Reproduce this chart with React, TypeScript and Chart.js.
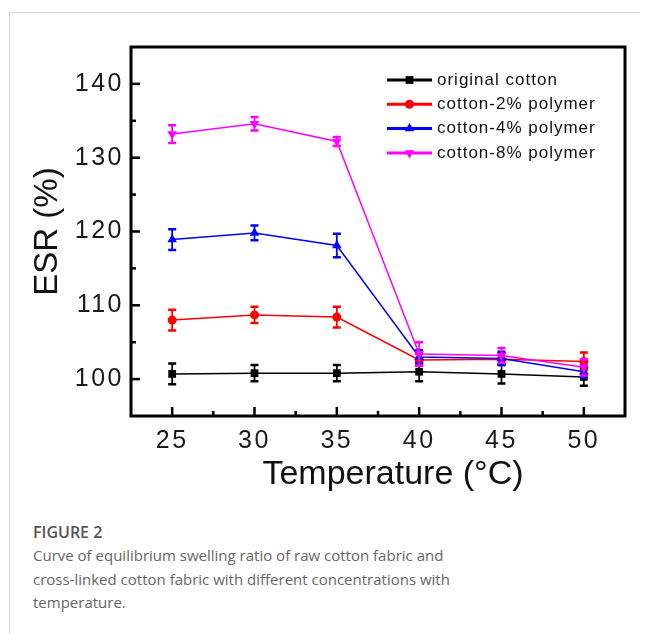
import React, { useEffect, useRef } from 'react';
import { Chart, registerables } from 'chart.js';

Chart.register(...registerables);

// ---- data ----
const temperatures = [25, 30, 35, 40, 45, 50];
const seriesNames = ['original cotton', 'cotton-2% polymer', 'cotton-4% polymer', 'cotton-8% polymer'];
const originalCotton = [100.7, 100.8, 100.8, 101.0, 100.7, 100.3];
const originalCottonErr = [1.4, 1.1, 1.1, 1.3, 1.3, 1.2];
const cotton2 = [108.0, 108.7, 108.4, 102.6, 102.7, 102.4];
const cotton2Err = [1.4, 1.1, 1.4, 0.8, 0.8, 1.2];
const cotton4 = [118.9, 119.8, 118.1, 103.0, 102.8, 101.0];
const cotton4Err = [1.4, 1.0, 1.6, 0.9, 0.9, 0.8];
const cotton8 = [133.2, 134.6, 132.2, 103.4, 103.2, 101.6];
const cotton8Err = [1.2, 0.9, 0.6, 1.6, 1.0, 1.1];
const seriesValues = [originalCotton, cotton2, cotton4, cotton8];
const seriesErrors = [originalCottonErr, cotton2Err, cotton4Err, cotton8Err];
const seriesColors = ['#000000', '#ff0000', '#0000ff', '#ff00ff'];
const pointStyles = ['rect', 'circle', 'triangle', 'triangle'];
const pointRotations = [0, 0, 0, 180];
const pointRadii = [5.5, 4.5, 5.5, 5.5];
const xRange = [22.5, 52.5];
const yRange = [95, 145];
const xLabelStep = 5;
const yLabelStep = 10;
const xTitle = 'Temperature (°C)';
const yTitle = 'ESR (%)';

const FONT = '"Liberation Sans", Arial, Helvetica, sans-serif';

function drawMarker(ctx: CanvasRenderingContext2D, style: string, rot: number, x: number, y: number, r: number) {
  ctx.beginPath();
  if (style === 'rect') {
    const s = r * Math.SQRT1_2;
    ctx.rect(x - s, y - s, 2 * s, 2 * s);
  } else if (style === 'circle') {
    ctx.arc(x, y, r, 0, Math.PI * 2);
  } else {
    const a0 = (rot * Math.PI) / 180;
    for (let k = 0; k < 3; k++) {
      const a = a0 - Math.PI / 2 + (k * 2 * Math.PI) / 3;
      const px = x + r * Math.cos(a);
      const py = y + r * Math.sin(a);
      if (k === 0) ctx.moveTo(px, py);
      else ctx.lineTo(px, py);
    }
    ctx.closePath();
  }
  ctx.fill();
}

const errorBarPlugin = {
  id: 'errorBars',
  beforeDatasetDraw(chart: any, args: any) {
    const idx = args.index;
    const errs = seriesErrors[idx];
    const vals = seriesValues[idx];
    const y = chart.scales.y;
    const ctx = chart.ctx;
    ctx.save();
    ctx.strokeStyle = seriesColors[idx];
    args.meta.data.forEach((el: any, i: number) => {
      const top = y.getPixelForValue(vals[i] + errs[i]);
      const bot = y.getPixelForValue(vals[i] - errs[i]);
      ctx.lineWidth = 1.8;
      ctx.beginPath();
      ctx.moveTo(el.x, top);
      ctx.lineTo(el.x, bot);
      ctx.stroke();
      ctx.lineWidth = 2.5;
      ctx.beginPath();
      ctx.moveTo(el.x - 4, top);
      ctx.lineTo(el.x + 4, top);
      ctx.moveTo(el.x - 4, bot);
      ctx.lineTo(el.x + 4, bot);
      ctx.stroke();
    });
    ctx.restore();
  },
};

const framePlugin = {
  id: 'frameAndLegend',
  beforeDraw(chart: any) {
    (chart.ctx as any).letterSpacing = '0px';
  },
  afterDatasetsDraw(chart: any) {
    // tick labels (z = 1) are drawn next, with letter spacing like the original
    (chart.ctx as any).letterSpacing = '2.5px';
  },
  afterDraw(chart: any) {
    const ctx = chart.ctx as CanvasRenderingContext2D;
    (ctx as any).letterSpacing = '0px';
    const { left, right, top, bottom } = chart.chartArea;
    ctx.save();
    ctx.strokeStyle = '#000';
    ctx.lineWidth = 3;
    ctx.strokeRect(left, top, right - left, bottom - top);
    // inward ticks
    ctx.lineWidth = 2.5;
    const xs = chart.scales.x;
    xs.ticks.forEach((t: any) => {
      const v = t.value;
      if (v <= xRange[0] + 1e-6 || v >= xRange[1] - 1e-6) return;
      const major = Math.abs(v / xLabelStep - Math.round(v / xLabelStep)) < 1e-6;
      const px = xs.getPixelForValue(v);
      ctx.beginPath();
      ctx.moveTo(px, bottom);
      ctx.lineTo(px, bottom - (major ? 9 : 5));
      ctx.stroke();
    });
    const ys = chart.scales.y;
    ys.ticks.forEach((t: any) => {
      const v = t.value;
      if (v <= yRange[0] + 1e-6 || v >= yRange[1] - 1e-6) return;
      const major = Math.abs(v / yLabelStep - Math.round(v / yLabelStep)) < 1e-6;
      const py = ys.getPixelForValue(v);
      ctx.beginPath();
      ctx.moveTo(left, py);
      ctx.lineTo(left + (major ? 9 : 5), py);
      ctx.stroke();
    });
    // x axis title (slightly right of centre, as in the original)
    ctx.fillStyle = '#111';
    ctx.font = `34px ${FONT}`;
    ctx.textAlign = 'center';
    ctx.textBaseline = 'alphabetic';
    ctx.fillText(xTitle, (left + right) / 2 + 15, bottom + 68);
    // legend
    (ctx as any).letterSpacing = '1px';
    ctx.font = `17px ${FONT}`;
    ctx.textBaseline = 'middle';
    ctx.textAlign = 'left';
    const lx = left + 256;
    const ly = top + 33;
    seriesNames.forEach((name, i) => {
      const yy = ly + i * 24.3;
      ctx.strokeStyle = seriesColors[i];
      ctx.fillStyle = seriesColors[i];
      ctx.lineWidth = 3;
      ctx.beginPath();
      ctx.moveTo(lx, yy);
      ctx.lineTo(lx + 45, yy);
      ctx.stroke();
      drawMarker(ctx, pointStyles[i], pointRotations[i], lx + 22.5, yy, pointRadii[i]);
      ctx.fillStyle = '#111';
      ctx.fillText(name, lx + 50, yy);
    });
    ctx.restore();
    (ctx as any).letterSpacing = '0px';
  },
};

function ChartView() {
  const ref = useRef<HTMLCanvasElement | null>(null);
  useEffect(() => {
    if (!ref.current) return;
    const chart = new Chart(ref.current, {
      type: 'line',
      data: {
        datasets: seriesNames.map((name, i) => ({
          label: name,
          data: temperatures.map((t, j) => ({ x: t, y: seriesValues[i][j] })),
          borderColor: seriesColors[i],
          backgroundColor: seriesColors[i],
          pointBackgroundColor: seriesColors[i],
          pointBorderColor: seriesColors[i],
          pointBorderWidth: 0,
          pointStyle: pointStyles[i] as any,
          rotation: pointRotations[i],
          pointRadius: pointRadii[i],
          borderWidth: 1.5,
          tension: 0,
          order: 4 - i,
        })),
      },
      options: {
        responsive: false,
        animation: false,
        devicePixelRatio: 1,
        layout: { padding: { top: 34, right: 23, bottom: 0, left: 0 } },
        plugins: { legend: { display: false }, tooltip: { enabled: false } },
        scales: {
          x: {
            type: 'linear',
            min: xRange[0],
            max: xRange[1],
            grid: { display: false, drawTicks: false },
            border: { display: false },
            ticks: {
              stepSize: 2.5,
              autoSkip: false,
              maxRotation: 0,
              minRotation: 0,
              padding: 10,
              z: 1,
              color: '#1a1a1a',
              font: { family: FONT, size: 25 },
              callback: (v: any) => (Math.abs(v / xLabelStep - Math.round(v / xLabelStep)) < 1e-6 && v > xRange[0] && v < xRange[1] ? String(v) : ''),
            },
            title: { display: false, text: xTitle },
            afterFit: (s: any) => { s.height = 87; },
          },
          y: {
            type: 'linear',
            min: yRange[0],
            max: yRange[1],
            grid: { display: false, drawTicks: false },
            border: { display: false },
            ticks: {
              stepSize: 5,
              autoSkip: false,
              padding: 7,
              z: 1,
              color: '#1a1a1a',
              font: { family: FONT, size: 25 },
              callback: (v: any) => (Math.abs(v / yLabelStep - Math.round(v / yLabelStep)) < 1e-6 ? String(v) : ''),
            },
            title: {
              display: true,
              text: yTitle,
              color: '#111',
              font: { family: FONT, size: 33 },
              padding: { top: 18, bottom: 0 },
            },
            afterFit: (s: any) => { s.width = 121; },
          },
        },
      },
      plugins: [errorBarPlugin, framePlugin],
    });
    return () => chart.destroy();
  }, []);
  return <canvas ref={ref} width={638} height={490} style={{ display: 'block', width: 638, height: 490 }} />;
}

export default function App() {
  useEffect(() => {
    document.body.style.overflow = 'hidden';
  }, []);
  return (
    <div style={{ overflow: 'hidden', marginRight: -8, paddingTop: 4, height: 640 }}>
      <div style={{ marginLeft: 1, borderTop: '1px solid #d6d6d6', borderLeft: '1px solid #d6d6d6', height: 660, background: '#fff' }}>
        <ChartView />
        <div style={{ paddingLeft: 23, marginTop: 18, fontFamily: '"Open Sans", "Noto Sans", sans-serif' }}>
          <div style={{ fontWeight: 600, fontSize: 16, lineHeight: '23px', color: '#555' }}>FIGURE 2</div>
          <div style={{ fontSize: 15, lineHeight: '23.5px', color: '#666', width: 430 }}>
            Curve of equilibrium swelling ratio of raw cotton fabric and cross-linked cotton fabric with different concentrations with temperature.
          </div>
        </div>
      </div>
    </div>
  );
}
